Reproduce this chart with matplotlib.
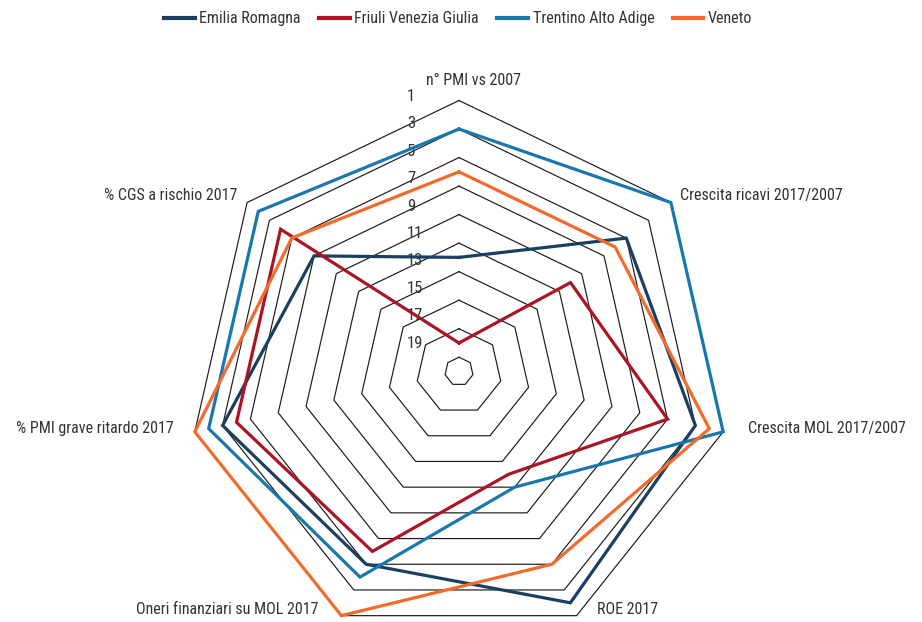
import numpy as np
import matplotlib
matplotlib.use("Agg")
import matplotlib.pyplot as plt

plt.rcParams['font.family'] = ['Roboto Condensed', 'Liberation Sans Narrow', 'Roboto', 'DejaVu Sans']

# assi del radar (in senso orario dall'alto)
categorie = ["n° PMI vs 2007", "Crescita ricavi 2017/2007", "Crescita MOL 2017/2007",
             "ROE 2017", "Oneri finanziari su MOL 2017", "% PMI grave ritardo 2017",
             "% CGS a rischio 2017"]

# posizioni in classifica (1 = migliore, all'esterno)
emilia = [12, 5, 3, 2, 5, 3, 7]
friuli = [18, 10, 5, 12, 6, 4, 4]
trentino = [3, 1, 1, 11, 4, 2, 2]
veneto = [6, 6, 2, 5, 1, 1, 5]

serie_nomi = ["Emilia Romagna", "Friuli Venezia Giulia", "Trentino Alto Adige", "Veneto"]
colori = ["#1b3f61", "#ab1424", "#1a77ab", "#f26a2c"]

griglia = [1, 3, 5, 7, 9, 11, 13, 15, 17, 19]

W, H = 922, 622
fig = plt.figure(figsize=(W / 100, H / 100), dpi=100)

# centro (459, 371.5) px, raggio 271 px
cx, cy, R = 459, 371.5, 271
ax = fig.add_axes([(cx - R) / W, (H - cy - R) / H, 2 * R / W, 2 * R / H], projection='polar')
ax.set_theta_offset(np.pi / 2)
ax.set_theta_direction(-1)
ax.set_ylim(20, 1)
ax.grid(False)
ax.spines['polar'].set_visible(False)
ax.set_xticks([])
ax.set_yticks([])
ax.patch.set_alpha(0)

n = len(categorie)
angoli = np.linspace(0, 2 * np.pi, n, endpoint=False)
ang_chiusi = np.append(angoli, angoli[0])

fs = 11.5
txt_col = "#333333"

# griglia ettagonale
for g in griglia:
    ax.plot(ang_chiusi, [g] * (n + 1), color="#1a1a1a", lw=0.85, clip_on=False, zorder=1)

# etichette della scala
for g in griglia:
    su = 4 + (g - 1) / 18 * 10
    ax.annotate(str(g), xy=(0, g), xytext=(-52, su), textcoords='offset pixels',
                ha='left', va='center', fontsize=fs + 0.5, color=txt_col)

# serie
for vals, nome, col in zip([emilia, friuli, trentino, veneto], serie_nomi, colori):
    ax.plot(ang_chiusi, vals + vals[:1], color=col, lw=2.3, label=nome,
            clip_on=False, zorder=3, solid_joinstyle='miter')

# etichette delle categorie
offset = [(15, 20, 'center'), (9, 7, 'left'), (25, 3, 'left'), (20, 6, 'left'),
          (-23, 6, 'right'), (-21, 3, 'right'), (-10, 7, 'right')]
for a, lab, (dx, dy, ha) in zip(angoli, categorie, offset):
    ax.annotate(lab, xy=(a, 1), xytext=(dx, dy), textcoords='offset pixels',
                ha=ha, va='center', fontsize=fs, color=txt_col)

leg = fig.legend(loc='upper center', bbox_to_anchor=(0.497, 1.0), ncol=4, frameon=False,
                 fontsize=fs, handlelength=1.9, handletextpad=0.3, columnspacing=1.15,
                 labelcolor=txt_col, borderaxespad=0.3)
for h in leg.get_lines():
    h.set_linewidth(3)

fig.savefig("out.png", dpi=100)
